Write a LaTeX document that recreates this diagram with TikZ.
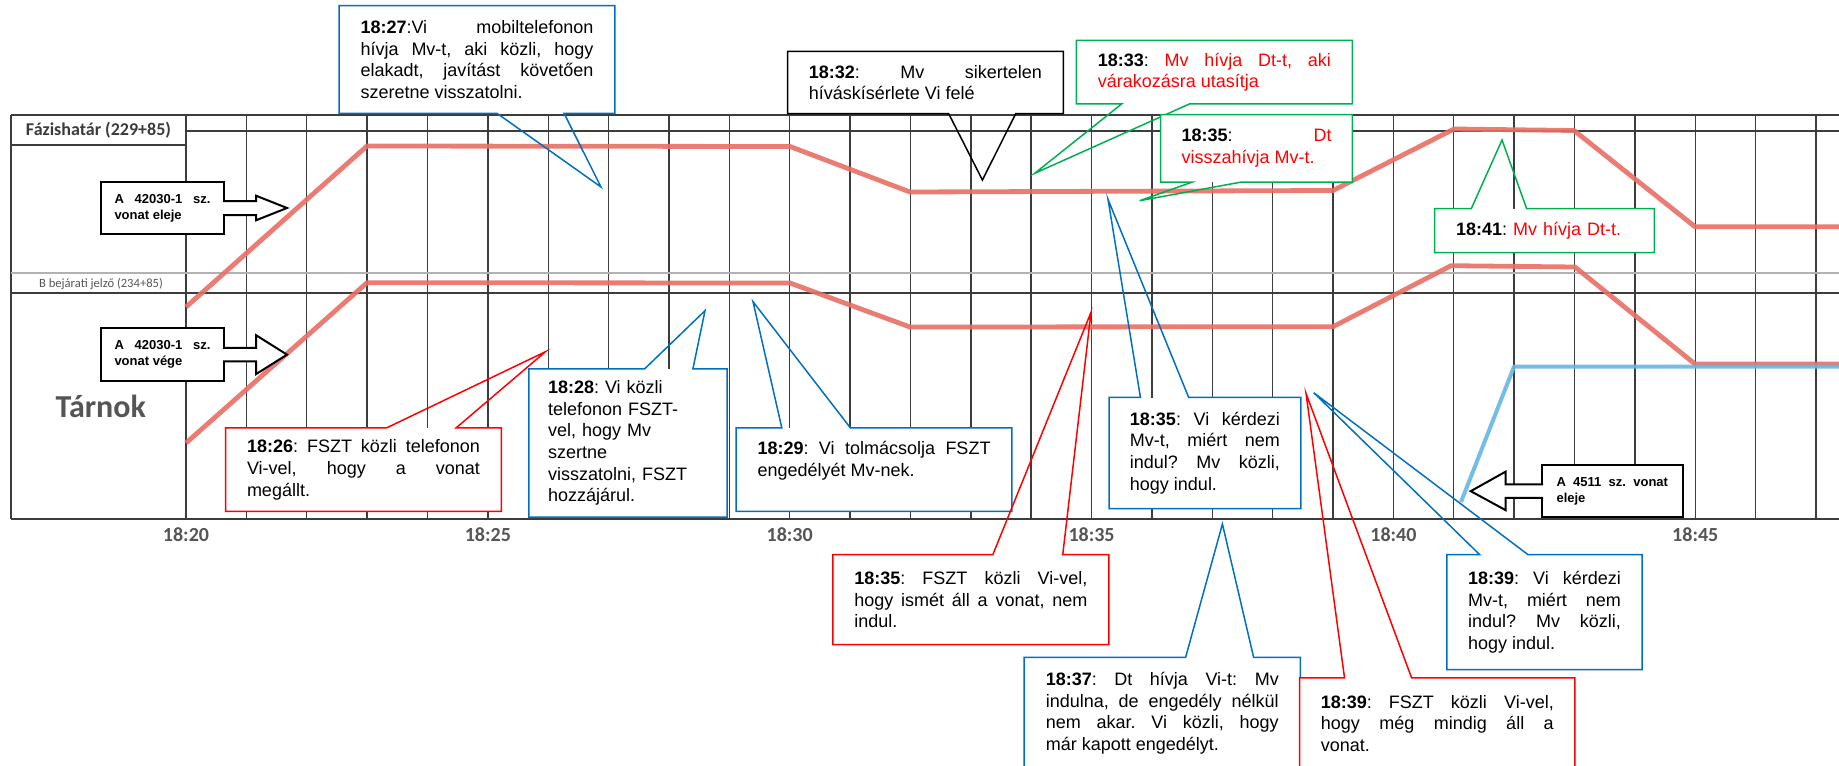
\documentclass[tikz,border=0pt]{standalone}
\usepackage{fontspec}
\setmainfont{Liberation Sans}
\newfontfamily\calibri{Carlito}
\usetikzlibrary{calc}
\frenchspacing

\definecolor{coblue}{RGB}{0,112,192}
\definecolor{cogreen}{RGB}{0,176,80}
\definecolor{cored}{RGB}{255,0,0}
\definecolor{gridgray}{RGB}{60,60,60}
\definecolor{labelgray}{RGB}{85,85,85}
\definecolor{trainred}{RGB}{233,110,100}
\definecolor{trainblue}{RGB}{100,182,230}

\tikzset{
  gridline/.style={gridgray, line width=0.7pt},
  train/.style={line width=2.4pt, line join=round, opacity=0.9},
  note/.style={fill=white, inner sep=2pt, align=justify, text width=116.5pt, minimum width=137.5pt,
    font=\fontsize{9}{10.85}\selectfont,
    execute at begin node={\tolerance=10000\hyphenpenalty=10000}},
  narrow/.style={text width=75pt, minimum width=95.5pt},
  outline/.style={line width=0.75pt, line join=miter},
  trainlab/.style={draw, fill=white, line width=1pt, inner sep=1pt, align=justify,
    font=\bfseries\fontsize{6.5}{7.9}\selectfont,
    execute at begin node={\tolerance=10000\hyphenpenalty=10000}},
  arrowline/.style={fill=white, line width=1pt, line join=miter}
}

\begin{document}
\begin{tikzpicture}[x=0.5pt, y=-0.5pt]
\useasboundingbox (0,0) rectangle (1839,765);
\clip (0,0) rectangle (1839,765);

% grid of the timetable
\foreach \k in {0,...,27}
  \draw[gridline] ({186+60.37*\k},115) -- ({186+60.37*\k},519);
\draw[gridline] (11,115) -- (1839,115) (11,519) -- (1839,519) (11,115) -- (11,519);
\draw[gridline] (186,131) -- (1839,131) (11,145) -- (186,145) (11,293) -- (1839,293);
\draw[gridline, gray!60] (11,273) -- (1839,273);

\node[font=\calibri\bfseries\fontsize{9}{9}\selectfont, text=labelgray!70!black] (fazis) at (98.5,130) {Fázishatár (229+85)};
\node[font=\calibri\fontsize{6.3}{6.3}\selectfont, text=labelgray] (bjelzo) at (101,283.5) {B bejárati jelző (234+85)};
\node[font=\calibri\bfseries\fontsize{16}{16}\selectfont, text=labelgray] (tarnok) at (100.8,406.7) {Tárnok};
\foreach \t in {20,25,...,45}
  \node[font=\calibri\bfseries\fontsize{10}{10}\selectfont, text=labelgray] (t\t) at ({186+60.37*(\t-20)},535) {18:\t};

% trains
\draw[train, trainred] (186,307) -- (367,146) -- (790,146.5) -- (910,192) -- (1333,190.5)
  -- (1454,129) -- (1574,130.5) -- (1695,226.7) -- (1839,226.7);
\draw[train, trainred] (186,443) -- (367,282.7) -- (790,283) -- (910,327) -- (1333,326.7)
  -- (1451,265.7) -- (1575,267) -- (1695,364) -- (1839,364);
\draw[train, trainblue, line width=2pt] (1461,502) -- (1514,366.7) -- (1839,366.7);

% pointer tips
\coordinate (p26) at (545.5,351.7);
\coordinate (p27) at (601,187);
\coordinate (p28) at (705,310.7);
\coordinate (p29) at (753,301.7);
\coordinate (p32) at (982.4,180);
\coordinate (p33) at (1034.7,173.3);
\coordinate (p35dt) at (1139.6,200.7);
\coordinate (p41) at (1502,140);
\coordinate (p35fszt) at (1091,312.3);
\coordinate (p35vi) at (1108,199.3);
\coordinate (p37) at (1222.4,524);
\coordinate (p39fszt) at (1306,393.3);
\coordinate (p39vi) at (1313.7,392.7);

% callouts
\node[note, minimum height=41.35pt] (c26) at (363.5,469.65)
  {\textbf{18:26}: FSZT közli telefonon\linebreak Vi-vel, hogy a vonat\linebreak megállt.};
\draw[outline, cored] (c26.north west) -- ++(161,0) -- (p26) -- ($(c26.north west)+(230.5,0)$)
  -- (c26.north east) -- (c26.south east) -- (c26.south west) -- cycle;

\node[note, minimum height=53.5pt] (c27) at (477,59.5)
  {\textbf{18:27}:Vi mobiltelefonon\linebreak hívja Mv-t, aki közli, hogy\linebreak elakadt, javítást követően\linebreak szeretne visszatolni.};
\draw[outline, coblue] (c27.south west) -- ++(158,0) -- (p27) -- ($(c27.south west)+(225,0)$)
  -- (c27.south east) -- (c27.north east) -- (c27.north west) -- cycle;

\node[note, align=left, text width=80pt, minimum width=98.7pt, minimum height=73.7pt] (c28) at (628,443)
  {\textbf{18:28}: Vi közli\\ telefonon FSZT-\\ vel, hogy Mv\\ szertne\\ visszatolni, FSZT\\ hozzájárul.};
\draw[outline, coblue] (c28.north west) -- ++(115.7,0) -- (p28) -- ($(c28.north west)+(164,0)$)
  -- (c28.north east) -- (c28.south east) -- (c28.south west) -- cycle;

\node[note, minimum height=41.35pt] (c29) at (874,469.65)
  {\textbf{18:29}: Vi tolmácsolja FSZT\linebreak engedélyét Mv-nek.\\\mbox{}};
\draw[outline, coblue] (c29.north west) -- ++(45.7,0) -- (p29) -- ($(c29.north west)+(114.3,0)$)
  -- (c29.north east) -- (c29.south east) -- (c29.south west) -- cycle;

\node[note, minimum height=30.8pt] (c32) at (925.4,82.5)
  {\textbf{18:32}: Mv sikertelen\linebreak híváskísérlete Vi felé};
\draw[outline, black] (c32.south west) -- ++(161.2,0) -- (p32) -- ($(c32.south west)+(228.2,0)$)
  -- (c32.south east) -- (c32.north east) -- (c32.north west) -- cycle;

\node[note, minimum height=31.4pt] (c33) at (1214.35,72.1)
  {\textbf{18:33}: {\color{cored}Mv hívja Dt-t, aki\linebreak várakozásra utasítja}};
\draw[outline, cogreen] (c33.south west) -- ++(45.3,0) -- (p33) -- ($(c33.south west)+(113.1,0)$)
  -- (c33.south east) -- (c33.north east) -- (c33.north west) -- cycle;

\node[note, narrow, minimum height=33.35pt] (c35dt) at (1256.5,148.35)
  {\textbf{18:35}: {\color{cored}Dt\linebreak visszahívja Mv-t.}};
\draw[outline, cogreen] (c35dt.south west) -- ++(31.6,0) -- (p35dt) -- ($(c35dt.south west)+(80.5,0)$)
  -- (c35dt.south east) -- (c35dt.north east) -- (c35dt.north west) -- cycle;

\node[note, align=left, text width=88.5pt, minimum width=109.5pt, minimum height=21.65pt] (c41) at (1544.5,230.65)
  {\textbf{18:41}: {\color{cored}Mv hívja Dt-t.}};
\draw[outline, cogreen] (c41.north west) -- ++(36.7,0) -- (p41) -- ($(c41.north west)+(92,0)$)
  -- (c41.north east) -- (c41.south east) -- (c41.south west) -- cycle;

\node[note, minimum height=44.65pt] (c35fszt) at (970.85,599.65)
  {\textbf{18:35}: FSZT közli Vi-vel,\linebreak hogy ismét áll a vonat, nem\linebreak indul.};
\draw[outline, cored] (c35fszt.north west) -- ++(159.9,0) -- (p35fszt) -- ($(c35fszt.north west)+(229.8,0)$)
  -- (c35fszt.north east) -- (c35fszt.south east) -- (c35fszt.south west) -- cycle;

\node[note, narrow, minimum width=95.55pt, minimum height=55.3pt] (c35vi) at (1204.95,453)
  {\textbf{18:35}: Vi kérdezi\linebreak Mv-t, miért nem\linebreak indul? Mv közli,\linebreak hogy indul.};
\draw[outline, coblue] (c35vi.north west) -- ++(31.4,0) -- (p35vi) -- ($(c35vi.north west)+(79.6,0)$)
  -- (c35vi.north east) -- (c35vi.south east) -- (c35vi.south west) -- cycle;

\node[note, minimum width=137.75pt, minimum height=55.65pt] (c37) at (1162.25,713.35)
  {\textbf{18:37}: Dt hívja Vi-t: Mv\linebreak indulna, de engedély nélkül\linebreak nem akar. Vi közli, hogy\linebreak már kapott engedélyt.};
\draw[outline, coblue] (c37.north west) -- ++(161.5,0) -- (p37) -- ($(c37.north west)+(229.5,0)$)
  -- (c37.north east) -- (c37.south east) -- (c37.south west) -- cycle;

\node[note, minimum width=137.25pt, minimum height=45pt] (c39fszt) at (1437.25,723.3)
  {\textbf{18:39}: FSZT közli Vi-vel,\linebreak hogy még mindig áll a\linebreak vonat.};
\draw[outline, cored] (c39fszt.north west) -- ++(44.9,0) -- (p39fszt) -- ($(c39fszt.north west)+(112,0)$)
  -- (c39fszt.north east) -- (c39fszt.south east) -- (c39fszt.south west) -- cycle;

\node[note, narrow, text width=76.4pt, minimum width=97.2pt, minimum height=57.15pt] (c39vi) at (1544.5,612.15)
  {\textbf{18:39}: Vi kérdezi\linebreak Mv-t, miért nem\linebreak indul? Mv közli,\linebreak hogy indul.};
\draw[outline, coblue] (c39vi.north west) -- ++(32.7,0) -- (p39vi) -- ($(c39vi.north west)+(81,0)$)
  -- (c39vi.north east) -- (c39vi.south east) -- (c39vi.south west) -- cycle;

% train labels with block arrows
\node[trainlab, text width=48pt, minimum width=61.5pt, minimum height=26.3pt] (eleje) at (162.5,208)
  {A 42030-1 sz.\linebreak vonat eleje};
\filldraw[arrowline] ($(eleje.east)+(-2,-7)$) -- ++(33,0) -- ++(0,-5.3) -- ($(eleje.east)+(62,0)$)
  -- ($(eleje.east)+(31,12.3)$) -- ++(0,-5.3) -- ($(eleje.east)+(-2,7)$);

\node[trainlab, text width=48pt, minimum width=61.5pt, minimum height=26.3pt] (vege) at (162.5,354.65)
  {A 42030-1 sz.\linebreak vonat vége};
\filldraw[arrowline] ($(vege.east)+(-2,-6.7)$) -- ++(33,0) -- ++(0,-12.8) -- ($(vege.east)+(62,0)$)
  -- ($(vege.east)+(31,19.5)$) -- ++(0,-12.8) -- ($(vege.east)+(-2,6.7)$);

\node[trainlab, text width=55.75pt, minimum width=70.25pt, minimum height=26.15pt] (v4511) at (1612.25,491.15)
  {A 4511 sz. vonat\linebreak eleje};
\filldraw[arrowline] ($(v4511.west)+(2,-6.7)$) -- ++(-37.4,0) -- ++(0,-12.8) -- ($(v4511.west)+(-70.3,0)$)
  -- ($(v4511.west)+(-35.4,19)$) -- ++(0,-12.3) -- ($(v4511.west)+(2,6.7)$);
\end{tikzpicture}
\end{document}
